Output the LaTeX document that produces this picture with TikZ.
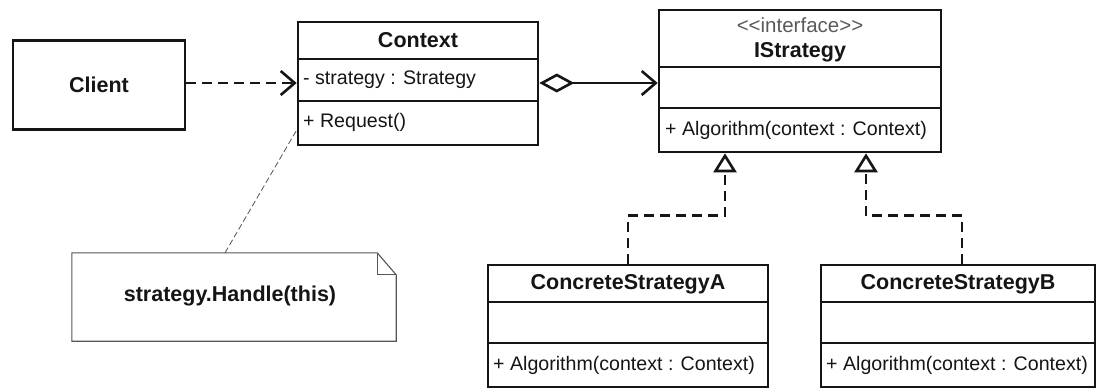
\documentclass[tikz,border=0pt]{standalone}
\usepackage{fontspec}
\setmainfont{Liberation Sans}
\usetikzlibrary{arrows.meta}
\definecolor{ink}{HTML}{151515}
\definecolor{stereo}{HTML}{5A5A5A}
\definecolor{notegray}{HTML}{555555}
\tikzset{
  box/.style={draw=ink, line width=2.6pt, rectangle, inner sep=0pt},
  divider/.style={draw=ink, line width=2.6pt},
  reg/.style={font=\fontsize{19.6}{22}\selectfont, text=ink, inner sep=0pt},
  bld/.style={font=\fontsize{21.5}{24}\selectfont\bfseries, text=ink, inner sep=0pt},
  depline/.style={draw=ink, line width=2.6pt, dash pattern=on 10pt off 6pt,
     -{Straight Barb[length=14pt,width=24pt,line width=2.6pt]}},
  aggline/.style={draw=ink, line width=2.6pt,
     {Diamond[open,length=35pt,width=19pt,line width=2.6pt,fill=white]}-{Straight Barb[length=14pt,width=24pt,line width=2.6pt]}},
  realline/.style={draw=ink, line width=2.6pt, dash pattern=on 10pt off 6pt,
     -{Triangle[open,length=19pt,width=23pt,line width=2.6pt,fill=white]}},
  noteline/.style={draw=notegray, line width=0.8pt, dash pattern=on 6pt off 3pt},
  notebox/.style={draw=notegray, line width=1.1pt}
}
\begin{document}
\begin{tikzpicture}[x=1pt,y=-1pt]
\useasboundingbox (0,0) rectangle (1097,389);
\fill[white] (0,0) rectangle (1097,389);

% Client
\node[box, minimum width=172pt, minimum height=89pt] (client) at (99,85) {};
\node[bld] (clientlbl) at (99,85) {Client};

% Context
\node[box, minimum width=240pt, minimum height=123pt] (ctx) at (418,83.5) {};
\draw[divider] (298,59) -- (538,59);
\draw[divider] (298,101) -- (538,101);
\node[bld] (ctxname) at (418,40.5) {Context};
\node[reg, anchor=west] (ctxattr) at (303,80) {- strategy : Strategy};
\node[reg, anchor=west] (ctxop) at (303,122) {+ Request()};

% IStrategy
\node[box, minimum width=282pt, minimum height=142pt] (istr) at (800,81) {};
\draw[divider] (659,67) -- (941,67);
\draw[divider] (659,108) -- (941,108);
\node[reg, text=stereo, font=\fontsize{20.5}{22}\selectfont] (istrst) at (800,25) {<\kern0pt<interface>\kern0pt>};
\node[bld] (istrname) at (800,52) {IStrategy};
\node[reg, anchor=west] (istrop) at (665,130) {+ Algorithm(context : Context)};

% ConcreteStrategyA
\node[box, minimum width=280pt, minimum height=122pt] (csa) at (628,326) {};
\draw[divider] (488,302) -- (768,302);
\draw[divider] (488,343) -- (768,343);
\node[bld] (csaname) at (628,284) {ConcreteStrategyA};
\node[reg, anchor=west] (csaop) at (493,365) {+ Algorithm(context : Context)};

% ConcreteStrategyB
\node[box, minimum width=274pt, minimum height=122pt] (csb) at (958,326) {};
\draw[divider] (821,302) -- (1095,302);
\draw[divider] (821,343) -- (1095,343);
\node[bld] (csbname) at (958,284) {ConcreteStrategyB};
\node[reg, anchor=west] (csbop) at (826,365) {+ Algorithm(context : Context)};

% Note
\node[minimum width=324pt, minimum height=88pt, inner sep=0pt] (note) at (234,297) {};
\draw[notebox] (note.north west) -- ([xshift=-19pt]note.north east)
  -- ([yshift=-22pt]note.north east) -- (note.south east) -- (note.south west) -- cycle;
\draw[notebox] ([xshift=-19pt]note.north east) -- ([xshift=-19pt,yshift=-22pt]note.north east)
  -- ([yshift=-22pt]note.north east);
\node[bld] (notetext) at (230,296) {strategy.Handle(this)};

% Connectors
\draw[depline] ([yshift=2pt]client.east) -- ([yshift=2pt]client.east -| ctx.west);
\draw[aggline] ([yshift=0.5pt]ctx.east) -- ([yshift=0.5pt]ctx.east -| istr.west);
\draw[realline] (csa.north) -- ++(0,-48) -| ([xshift=-75pt]istr.south);
\draw[realline] ([xshift=4pt]csb.north) -- ++(0,-48) -| ([xshift=66pt]istr.south);
\draw[noteline] ([xshift=-9pt]note.north) -- ([yshift=-46.5pt]ctx.west);
\end{tikzpicture}
\end{document}
